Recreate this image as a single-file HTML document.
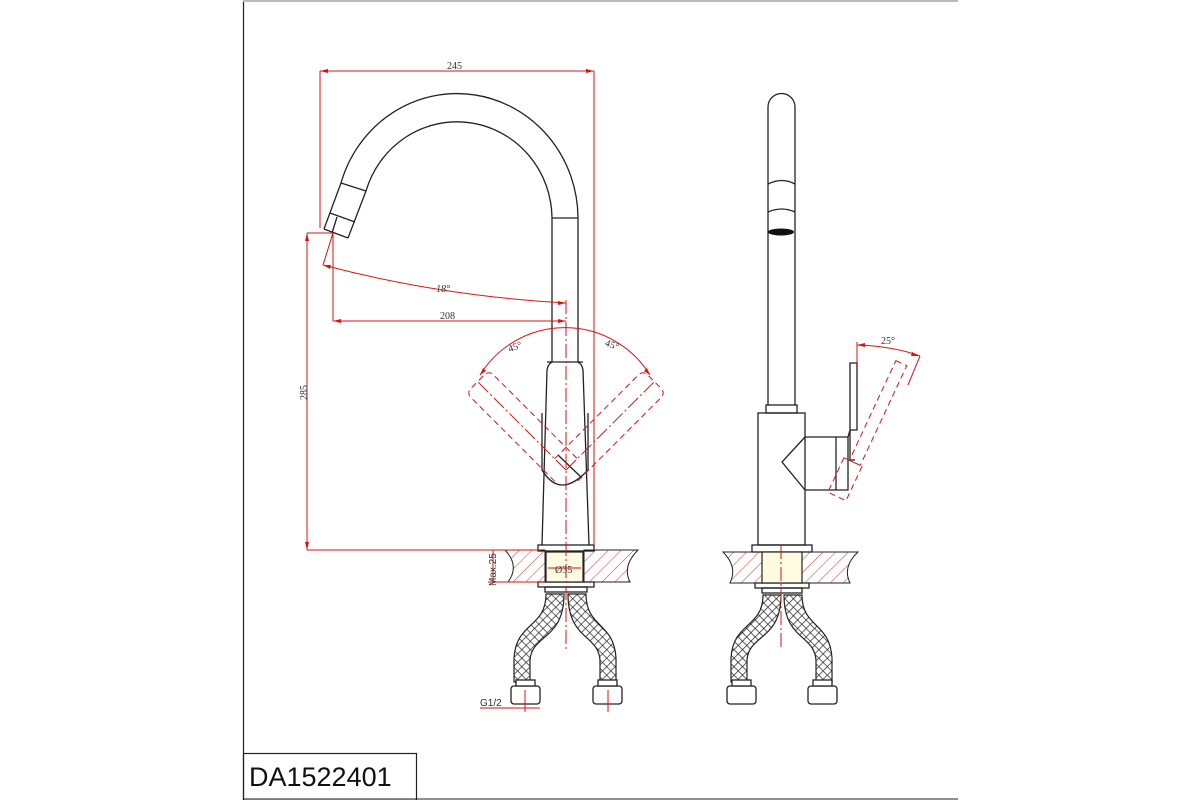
<!DOCTYPE html>
<html><head><meta charset="utf-8"><style>
html,body{margin:0;padding:0;background:#fff;}
svg{display:block;}
text{font-family:"Liberation Serif",serif;fill:#333;}
</style></head><body>
<svg width="1200" height="800" viewBox="0 0 1200 800" xmlns="http://www.w3.org/2000/svg">
<defs>
<pattern id="hatch" width="9" height="9" patternUnits="userSpaceOnUse" patternTransform="rotate(45)">
<line x1="0" y1="0" x2="0" y2="9" stroke="#d33" stroke-width="1"/>
</pattern>
<pattern id="braid" width="6" height="6" patternUnits="userSpaceOnUse" patternTransform="rotate(45)">
<rect width="6" height="6" fill="#fff"/>
<line x1="0" y1="0" x2="0" y2="6" stroke="#222" stroke-width="1.4"/>
<line x1="0" y1="0" x2="6" y2="0" stroke="#222" stroke-width="1.4"/>
</pattern>
</defs>
<line x1="243.5" y1="0" x2="243.5" y2="800" stroke="#222" stroke-width="1.2"/>
<line x1="243" y1="1" x2="958" y2="1" stroke="#bbb" stroke-width="2"/>
<line x1="243" y1="799" x2="958" y2="799" stroke="#222" stroke-width="1"/>
<rect x="243.5" y="753.5" width="173" height="47" fill="none" stroke="#222" stroke-width="1.2"/>
<text x="249" y="786" style="font-family:'Liberation Sans',sans-serif;font-size:27px;fill:#111">DA1522401</text>

<!-- ===== LEFT VIEW ===== -->
<g fill="none" stroke="#222" stroke-width="1.3">
<path d="M578,218 A121,125 0 0 0 341,183"/>
<path d="M552,218 A95,97 0 0 0 366,191"/>
<line x1="552" y1="218" x2="578" y2="218"/>
<line x1="552" y1="218" x2="552" y2="362"/>
<line x1="578" y1="218" x2="578" y2="362"/>
<path d="M341,183 L324,229 M366,191 L348,238 M341,183 L366,191 M330,213 L355,222 M324,229 L348,238 M337,217 L332,233"/>
<path d="M552,362 Q548,364 547,370 L542,545 M578,362 Q582,364 583,370 L589,545"/>
<line x1="547" y1="362" x2="583" y2="362"/>
<path d="M542,413 L542,470 Q560,500 588,470 L588,413"/>
<line x1="558" y1="455" x2="582" y2="478"/>
<rect x="538" y="545" width="56" height="6"/>
<rect x="538" y="582" width="56" height="5"/>
<rect x="545" y="587" width="42" height="5"/>
</g>
<rect x="546" y="552" width="37" height="30" fill="#fffbe0" stroke="#222" stroke-width="1.2"/>
<path d="M505,550 L545,550 L545,582 L508,582 Q520,566 505,550 Z" fill="url(#hatch)" stroke="#222" stroke-width="1"/>
<path d="M584,550 L638,550 Q622,566 630,582 L584,582 Z" fill="url(#hatch)" stroke="#222" stroke-width="1"/>
<path d="M546,594 C546,628 516,622 514,658 L514,682 L530,682 L530,660 C532,634 564,640 564,594 Z" fill="url(#braid)" stroke="#222" stroke-width="1.2"/>
<path d="M568,594 C568,640 598,634 600,660 L600,682 L616,682 L616,658 C614,622 586,628 586,594 Z" fill="url(#braid)" stroke="#222" stroke-width="1.2"/>
<g fill="#fff" stroke="#222" stroke-width="1.3">
<rect x="511" y="686" width="29" height="18" rx="3"/>
<rect x="593" y="686" width="29" height="18" rx="3"/>
<rect x="516" y="680" width="19" height="6"/>
<rect x="598" y="680" width="19" height="6"/>
</g>

<g fill="none" stroke="#d11" stroke-width="1">
<line x1="320" y1="71" x2="594" y2="71"/>
<line x1="320" y1="71" x2="320" y2="228"/>
<line x1="594" y1="71" x2="594" y2="545"/>
<line x1="307" y1="233" x2="307" y2="550"/>
<line x1="307" y1="233" x2="333" y2="233"/>
<line x1="307" y1="550" x2="540" y2="550"/>
<line x1="333" y1="233" x2="333" y2="321"/>
<line x1="333" y1="321" x2="566" y2="321"/>
<line x1="333" y1="233" x2="323" y2="265"/>
<path d="M323,265 Q440,296 566,303"/>
<line x1="566" y1="300" x2="566" y2="650" stroke-dasharray="14,3,2,3"/>
<path d="M480,375 A100,100 0 0 1 650,375"/>
<line x1="493" y1="550" x2="493" y2="582"/>
<line x1="488" y1="582" x2="545" y2="582"/>
<line x1="548" y1="568" x2="581" y2="568"/>
<line x1="480" y1="708" x2="540" y2="708"/>
<line x1="525" y1="690" x2="525" y2="712"/>
<line x1="608" y1="690" x2="608" y2="712"/>
<g stroke-dasharray="6,4">
<g transform="translate(566,470) rotate(-45)">
<path d="M-16,0 L-16,-118 Q-16,-125 -9,-125 L9,-125 Q16,-125 16,-118 L16,0"/>
<line x1="0" y1="0" x2="0" y2="-125" stroke-dasharray="14,3,2,3"/>
</g>
<g transform="translate(566,470) rotate(45)">
<path d="M-16,0 L-16,-118 Q-16,-125 -9,-125 L9,-125 Q16,-125 16,-118 L16,0"/>
<line x1="0" y1="0" x2="0" y2="-125" stroke-dasharray="14,3,2,3"/>
</g>
</g>
</g>
<g fill="#d11">
<path d="M320,71 l8,-2 v4z M594,71 l-8,-2 v4z M307,233 l-2,8 h4z M307,550 l-2,-8 h4z M333,321 l8,-2 v4z M566,321 l-8,-2 v4z M323,265 l8,0 l-1,4z M566,303 l-8,-2 v4z M480,375 l3,-7 l3,3z M650,375 l-3,-7 l-3,3z"/>
</g>
<text x="447" y="69" font-size="10">245</text>
<text x="436" y="292" font-size="10" font-style="italic">18°</text>
<text x="440" y="319" font-size="10">208</text>
<text x="307" y="400" font-size="10" transform="rotate(-90 307 400)">285</text>
<text x="508" y="350" font-size="10" transform="rotate(-20 515 347)">45°</text>
<text x="605" y="348" font-size="10" transform="rotate(20 612 345)">45°</text>
<text x="555" y="573" font-size="10">Ø35</text>
<text x="496" y="586" font-size="10" style="font-family:'Liberation Sans',sans-serif" transform="rotate(-90 496 586)">Max.25</text>
<text x="480" y="706" font-size="10" style="font-family:'Liberation Sans',sans-serif">G1/2</text>

<!-- ===== RIGHT VIEW ===== -->
<g fill="none" stroke="#222" stroke-width="1.3">
<path d="M768,405 L768,107 A13.5,13.5 0 0 1 795,107 L795,405"/>
<path d="M768,184 Q782,177 795,184 M768,212 Q782,206 795,212"/>
<rect x="766" y="405" width="31" height="8"/>
<rect x="758" y="413" width="47" height="132"/>
<path d="M805,437 L848,437 L848,490 L805,490 M805,437 L782,462 L805,490"/>
<line x1="836" y1="437" x2="836" y2="490"/>
<path d="M848,437 L850,430 L857,430 L857,363 L850,363 L850,460 L855,460"/>
<rect x="752" y="545" width="60" height="7"/>
<rect x="755" y="583" width="54" height="5"/>
<rect x="762" y="588" width="40" height="5"/>
</g>
<ellipse cx="781" cy="232" rx="13" ry="3.5" fill="#111"/>
<rect x="762" y="552" width="40" height="31" fill="#fffbe0" stroke="#222" stroke-width="1.2"/>
<path d="M723,552 L762,552 L762,583 L730,583 Q738,567 723,552 Z" fill="url(#hatch)" stroke="#222" stroke-width="1"/>
<path d="M802,552 L858,552 Q842,567 850,583 L802,583 Z" fill="url(#hatch)" stroke="#222" stroke-width="1"/>
<path d="M763,595 C763,628 733,622 731,658 L731,682 L747,682 L747,660 C749,634 781,640 781,595 Z" fill="url(#braid)" stroke="#222" stroke-width="1.2"/>
<path d="M784,595 C784,640 814,634 816,660 L816,682 L832,682 L832,658 C830,622 802,628 802,595 Z" fill="url(#braid)" stroke="#222" stroke-width="1.2"/>
<g fill="#fff" stroke="#222" stroke-width="1.3">
<rect x="727" y="686" width="29" height="18" rx="3"/>
<rect x="808" y="686" width="29" height="18" rx="3"/>
<rect x="732" y="680" width="19" height="6"/>
<rect x="813" y="680" width="19" height="6"/>
</g>
<g fill="none" stroke="#d11" stroke-width="1">
<line x1="781" y1="545" x2="781" y2="650" stroke-dasharray="14,3,2,3"/>
<line x1="857" y1="342" x2="857" y2="363"/>
<path d="M857,345 Q892,346 920,356"/>
<line x1="920" y1="356" x2="908" y2="385"/>
<g transform="translate(853,462) rotate(25)" stroke-dasharray="6,4">
<rect x="-4" y="-110" width="12" height="110"/>
<rect x="-10" y="0" width="20" height="38"/>
</g>
</g>
<path d="M857,345 l8,-2 v4z M920,356 l-8,-4 l-1,4z" fill="#d11"/>
<text x="881" y="344" font-size="10">25°</text>
</svg>
</body></html>
